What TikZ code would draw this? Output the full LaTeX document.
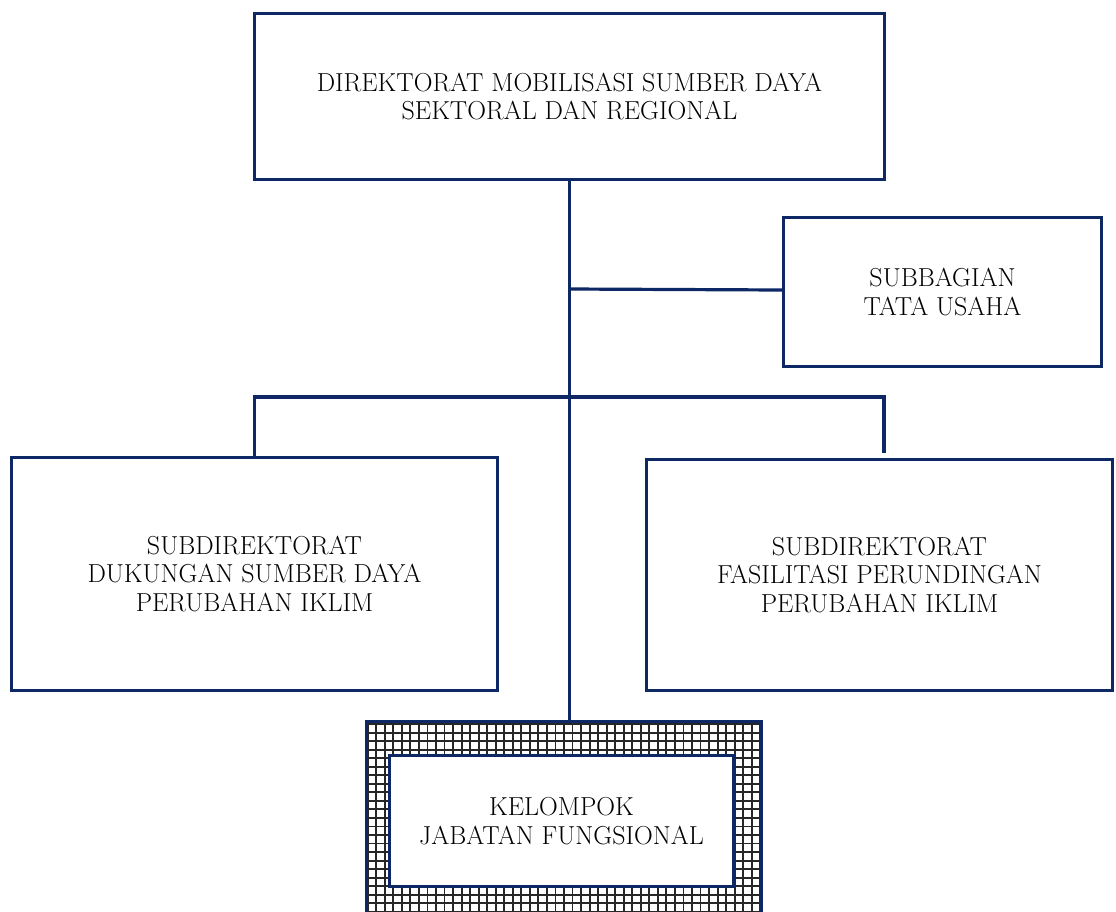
\documentclass[tikz,border=0pt]{standalone}
\usepackage{tikz}
\usetikzlibrary{positioning}

\definecolor{navy}{RGB}{14,40,102}

\begin{document}
\begin{tikzpicture}[
  x=0.75pt, y=-0.75pt,
  box/.style={draw=navy, line width=2.4pt, fill=white, inner sep=0pt,
    align=center, font=\fontsize{19.5}{21.6}\selectfont},
  frame/.style={draw=navy, line width=2.4pt, fill=white, inner sep=0pt,
    path picture={\draw[black!85, line width=1.4pt, step=6.4pt]
      (path picture bounding box.south west) grid
      (path picture bounding box.north east);}},
  link/.style={draw=navy, line width=2.4pt},
]
  \useasboundingbox (0,0) rectangle (1116,911);

  % boxes
  \node[box, minimum width=472.5pt, minimum height=124.5pt] (dir) at (569.5,96.5)
    {DIREKTORAT MOBILISASI SUMBER DAYA\\SEKTORAL DAN REGIONAL};
  \node[box, minimum width=238.5pt, minimum height=111.75pt] (tu) at (942.5,292)
    {SUBBAGIAN\\TATA USAHA};
  \node[box, minimum width=364.5pt, minimum height=174.75pt] (dukung) at (254.5,574)
    {SUBDIREKTORAT\\DUKUNGAN SUMBER DAYA\\PERUBAHAN IKLIM};
  \node[box, minimum width=349.5pt, minimum height=173.25pt] (runding) at (879.5,575)
    {SUBDIREKTORAT\\FASILITASI PERUNDINGAN\\PERUBAHAN IKLIM};
  \node[frame, minimum width=296.25pt, minimum height=170pt] (fgframe) at (564,835) {};
  \node[box, minimum width=258pt, minimum height=98.25pt] (fg) at (561.5,821)
    {KELOMPOK\\JABATAN FUNGSIONAL};

  % connectors
  \coordinate (bar) at (0,397);
  \coordinate (rdrop) at (884,453);
  \draw[link] (dir.south) -- (dir.south |- fgframe.north);
  \draw[link] (dir.south |- 0,289) -- (tu.west |- 0,290);
  \draw[link] (dukung.north) |- (rdrop |- bar) -- (rdrop);
\end{tikzpicture}
\end{document}
